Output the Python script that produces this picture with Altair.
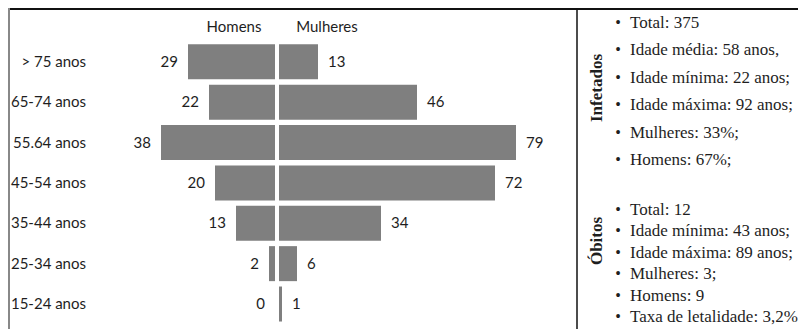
import altair as alt
import pandas as pd

# ---- data ----
faixas = ["> 75 anos", "65-74 anos", "55.64 anos", "45-54 anos", "35-44 anos", "25-34 anos", "15-24 anos"]
homens = [29, 22, 38, 20, 13, 2, 0]
mulheres = [13, 46, 79, 72, 34, 6, 1]
infetados = ["Total: 375", "Idade média: 58 anos,", "Idade mínima: 22 anos;",
             "Idade máxima: 92 anos;", "Mulheres: 33%;", "Homens: 67%;"]
obitos = ["Total: 12", "Idade mínima: 43 anos;", "Idade máxima: 89 anos;",
          "Mulheres: 3;", "Homens: 9", "Taxa de letalidade: 3,2%"]

df = pd.DataFrame({"faixa": faixas, "homens": homens, "mulheres": mulheres})
df_inf = pd.DataFrame({"t": infetados, "i": list(range(len(infetados)))})
df_obi = pd.DataFrame({"t": obitos, "i": list(range(len(obitos)))})
one = pd.DataFrame({"a": [0]})

W, H = 790, 321
GRAY = "#7f7f7f"
TXT = "#1e1e1e"
SANS = "Lato"
SERIF = "Liberation Serif"
FS = 15
SFS = 17

yscale = alt.Scale(domain=faixas, range=[33.6, 316.2], paddingInner=0.133, paddingOuter=0.0665)
xm = alt.Scale(domain=[0, 100], range=[267, -33])
xf = alt.Scale(domain=[0, 100], range=[271, 571])
Y = alt.Y("faixa:N", scale=yscale, axis=None)

bars_m = alt.Chart(df).mark_bar(color=GRAY).encode(
    x=alt.X("homens:Q", scale=xm, axis=None), y=Y)
bars_f = alt.Chart(df).mark_bar(color=GRAY).encode(
    x=alt.X("mulheres:Q", scale=xf, axis=None), y=Y)
lab_m = alt.Chart(df).mark_text(align="right", baseline="middle", dx=-10, font=SANS,
                                fontSize=FS, color=TXT).encode(
    x=alt.X("homens:Q", scale=xm, axis=None), y=Y, text="homens:Q")
lab_f = alt.Chart(df).mark_text(align="left", baseline="middle", dx=10, font=SANS,
                                fontSize=FS, color=TXT).encode(
    x=alt.X("mulheres:Q", scale=xf, axis=None), y=Y, text="mulheres:Q")
cats = alt.Chart(df).mark_text(align="right", baseline="middle", font=SANS,
                               fontSize=FS, color=TXT).encode(
    x=alt.value(78), y=Y, text="faixa:N")
head_m = alt.Chart(one).mark_text(text="Homens", align="center", baseline="middle",
                                  font=SANS, fontSize=FS, color=TXT).encode(
    x=alt.value(226), y=alt.value(18.5))
head_f = alt.Chart(one).mark_text(text="Mulheres", align="center", baseline="middle",
                                  font=SANS, fontSize=FS, color=TXT).encode(
    x=alt.value(319), y=alt.value(18.5))

# frame lines
top = alt.Chart(one).mark_rule(color="#111", strokeWidth=2).encode(
    x=alt.value(0), x2=alt.value(W), y=alt.value(1))
left = alt.Chart(one).mark_rule(color="#888", strokeWidth=2).encode(
    x=alt.value(1), y=alt.value(0), y2=alt.value(H))
div = alt.Chart(one).mark_rule(color="#111", strokeWidth=1.5).encode(
    x=alt.value(569), y=alt.value(0), y2=alt.value(H))

# right panel
yi = alt.Y("i:Q", scale=alt.Scale(domain=[0, 5], range=[15, 152]), axis=None)
yo = alt.Y("i:Q", scale=alt.Scale(domain=[0, 5], range=[202, 309]), axis=None)
inf_t = alt.Chart(df_inf).mark_text(align="left", baseline="middle", font=SERIF,
                                    fontSize=SFS, color=TXT).encode(
    x=alt.value(622), y=yi, text="t:N")
inf_b = alt.Chart(df_inf).mark_text(text="•", align="center", baseline="middle", font=SERIF,
                                    fontSize=16, color=TXT).encode(
    x=alt.value(610), y=yi)
obi_t = alt.Chart(df_obi).mark_text(align="left", baseline="middle", font=SERIF,
                                    fontSize=SFS, color=TXT).encode(
    x=alt.value(622), y=yo, text="t:N")
obi_b = alt.Chart(df_obi).mark_text(text="•", align="center", baseline="middle", font=SERIF,
                                    fontSize=16, color=TXT).encode(
    x=alt.value(610), y=yo)
t_inf = alt.Chart(one).mark_text(text="Infetados", angle=270, align="center", baseline="middle",
                                 font=SERIF, fontSize=SFS, fontWeight="bold", color=TXT).encode(
    x=alt.value(589), y=alt.value(80))
t_obi = alt.Chart(one).mark_text(text="Óbitos", angle=270, align="center", baseline="middle",
                                 font=SERIF, fontSize=SFS, fontWeight="bold", color=TXT).encode(
    x=alt.value(589), y=alt.value(233))

chart = alt.layer(
    top, left, div,
    bars_m, bars_f, lab_m, lab_f, cats, head_m, head_f,
    inf_t, inf_b, obi_t, obi_b, t_inf, t_obi,
).resolve_scale(x="independent", y="independent").properties(
    width=W, height=H, padding=0,
    autosize=alt.AutoSizeParams(type="none"),
    background="white",
).configure_view(stroke=None)

chart.save("out.html", embed_options={"renderer": "svg", "actions": False})
